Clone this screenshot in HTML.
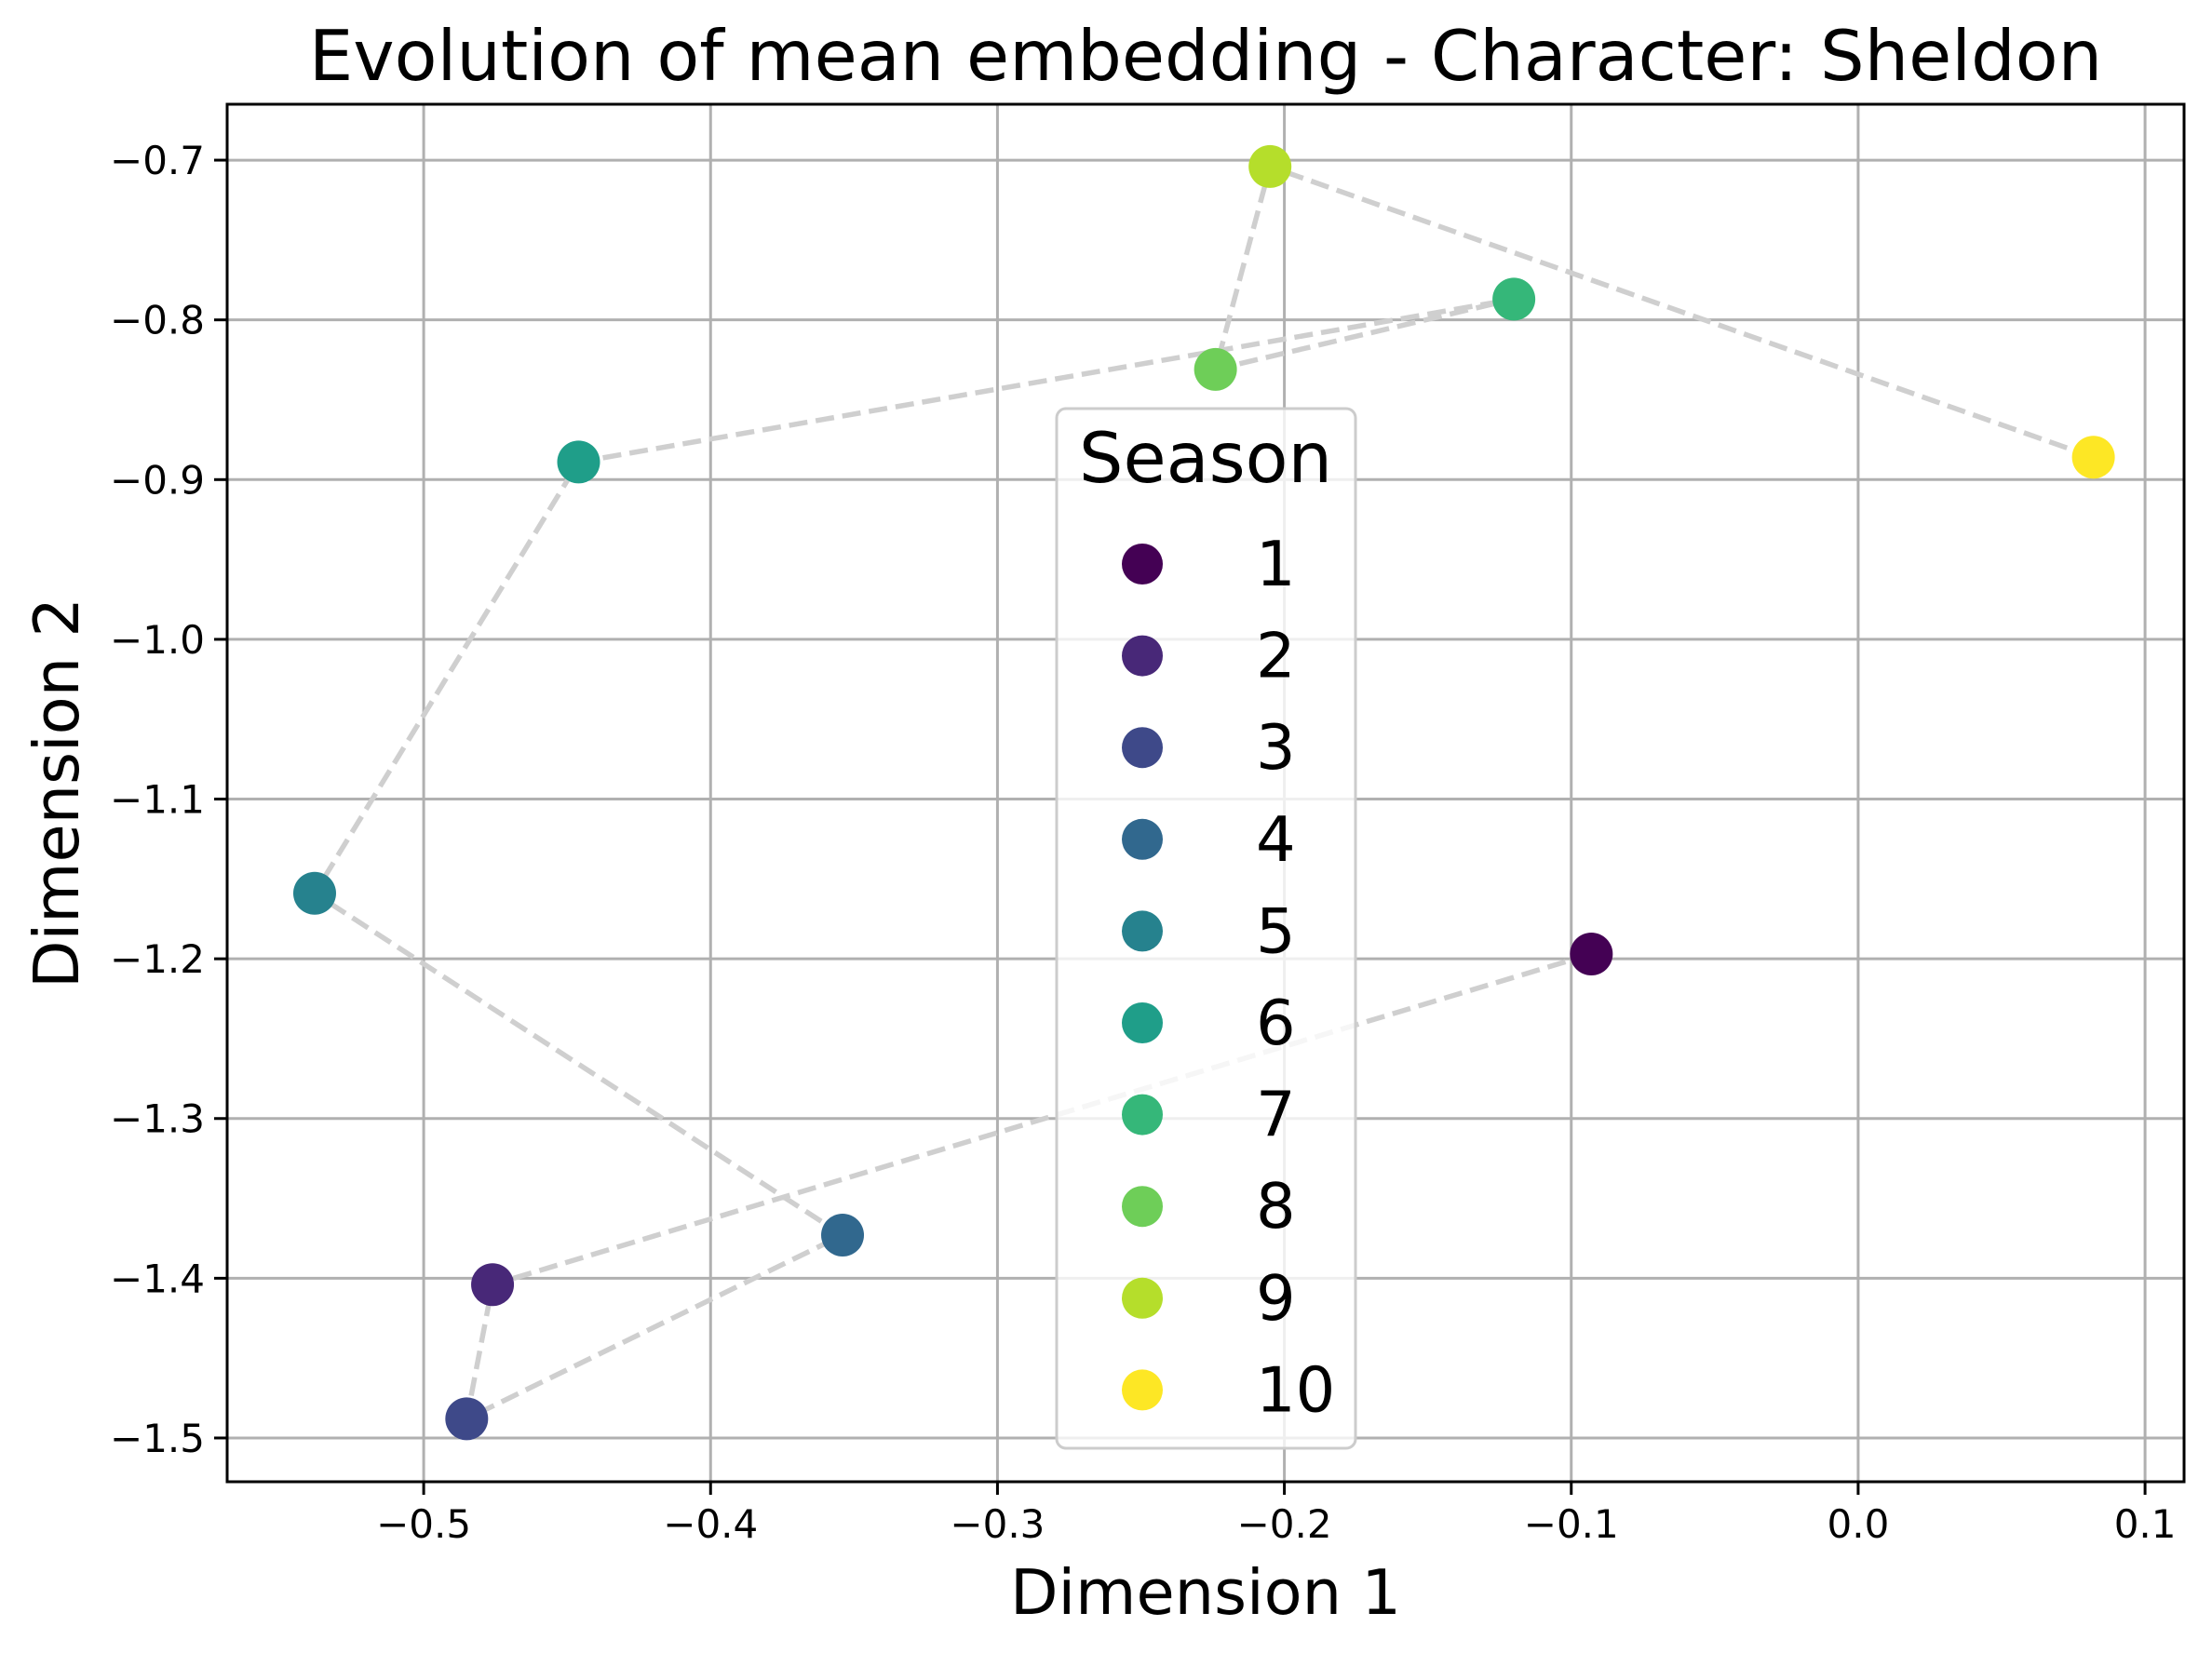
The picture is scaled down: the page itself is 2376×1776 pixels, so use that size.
<!DOCTYPE html>
<html><head><meta charset="utf-8"><style>html,body{margin:0;padding:0;background:#fff}svg{display:block}text{font-family:"DejaVu Sans","Liberation Sans",sans-serif}</style></head>
<body>
<svg id="chart" width="2376" height="1776" xmlns="http://www.w3.org/2000/svg">
<rect width="2376" height="1776" fill="#fff"/>
<g id="grid"></g><g id="lines"></g><g id="points"></g><g id="axes"></g><g id="legend"></g>
<text x="1295" y="86" font-size="75" text-anchor="middle">Evolution of mean embedding - Character: Sheldon</text>
<text x="1295" y="1734" font-size="67" text-anchor="middle">Dimension 1</text>
<text transform="translate(84,852) rotate(-90)" font-size="67" text-anchor="middle">Dimension 2</text>
</svg>
<script>
const seasons=[1,2,3,4,5,6,7,8,9,10];
const dim1=[-0.093,-0.476,-0.485,-0.354,-0.538,-0.446,-0.120,-0.224,-0.205,0.082];
const dim2=[-1.197,-1.404,-1.488,-1.373,-1.159,-0.889,-0.787,-0.831,-0.704,-0.886];
const colors=["#440154","#482878","#3e4989","#31688e","#26828e","#1f9e89","#35b779","#6ece58","#b5de2b","#fde725"];
const xTicks=[-0.5,-0.4,-0.3,-0.2,-0.1,0.0,0.1];
const xTickLabels=["\u22120.5","\u22120.4","\u22120.3","\u22120.2","\u22120.1","0.0","0.1"];
const yTicks=[-0.7,-0.8,-0.9,-1.0,-1.1,-1.2,-1.3,-1.4,-1.5];
const yTickLabels=["\u22120.7","\u22120.8","\u22120.9","\u22121.0","\u22121.1","\u22121.2","\u22121.3","\u22121.4","\u22121.5"];
const L=244,R=2346,T=112,B=1592;
const xMin=-0.5685,xMax=0.1136,yMin=-1.5274,yMax=-0.665;
const sx=v=>L+(v-xMin)/(xMax-xMin)*(R-L);
const sy=v=>B-(v-yMin)/(yMax-yMin)*(B-T);
const NS="http://www.w3.org/2000/svg";
function mk(tag,attrs,parent){const e=document.createElementNS(NS,tag);for(const k in attrs)e.setAttribute(k,attrs[k]);parent.appendChild(e);return e;}
const grid=document.getElementById('grid'),axes=document.getElementById('axes');
xTicks.forEach((t,i)=>{const x=sx(t);
const g=mk('line',{x1:x,x2:x,y1:T,y2:B,stroke:'#b0b0b0','stroke-width':3},grid);


mk('line',{x1:x,x2:x,y1:B,y2:B+14,stroke:'#000','stroke-width':3},axes);
const tx=mk('text',{x:x,y:B+60,'font-size':42,'text-anchor':'middle'},axes);tx.textContent=xTickLabels[i];

});
yTicks.forEach((t,i)=>{const y=sy(t);
const g=mk('line',{x1:L,x2:R,y1:y,y2:y,stroke:'#b0b0b0','stroke-width':3},grid);


mk('line',{x1:L-14,x2:L,y1:y,y2:y,stroke:'#000','stroke-width':3},axes);
const tx=mk('text',{x:L-24,y:y+15,'font-size':42,'text-anchor':'end'},axes);tx.textContent=yTickLabels[i];

});
const fr=mk('rect',{x:L,y:T,width:R-L,height:B-T,fill:'none',stroke:'#000','stroke-width':3},axes);


const pts=seasons.map((s,i)=>sx(dim1[i])+','+sy(dim2[i])).join(' ');
const pl=mk('polyline',{points:pts,fill:'none',stroke:'#cfcfcf','stroke-width':5.5,'stroke-dasharray':'20 9'},document.getElementById('lines'));


const pg=document.getElementById('points');
seasons.forEach((s,i)=>{const c=mk('circle',{cx:sx(dim1[i]),cy:sy(dim2[i]),r:23,fill:colors[i]},pg);

});
const lg=document.getElementById('legend');
const box=mk('rect',{x:1135,y:439,width:321,height:1117,rx:10,fill:'#fff','fill-opacity':0.8,stroke:'#cccccc','stroke-width':3},lg);


const lt=mk('text',{x:1295,y:518,'font-size':75,'text-anchor':'middle'},lg);lt.textContent='Season';


seasons.forEach((s,i)=>{const y=606+i*98.6;
const c=mk('circle',{cx:1227,cy:y,r:22,fill:colors[i]},lg);


const t=mk('text',{x:1349,y:y+23,'font-size':67,'text-anchor':'start'},lg);t.textContent=String(s);

});
</script>
</body></html>
